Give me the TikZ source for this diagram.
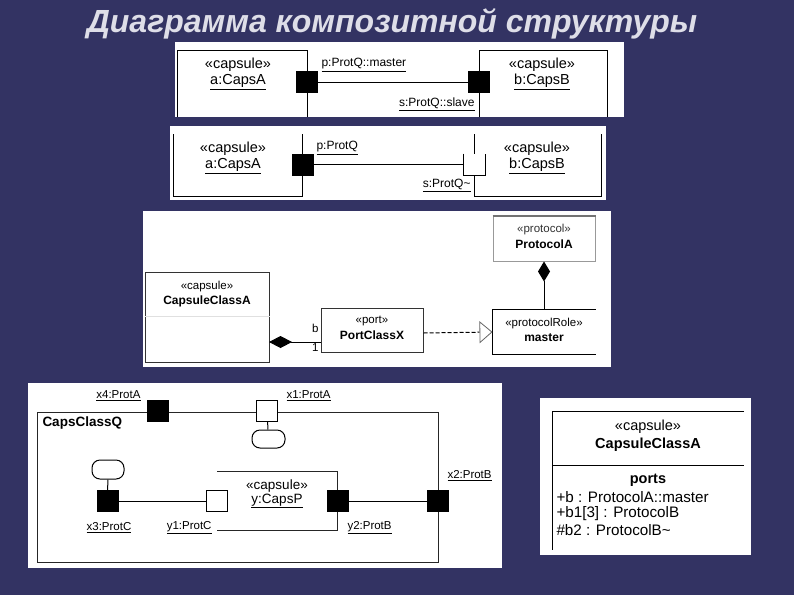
\documentclass[tikz,border=0pt]{standalone}
\usepackage{fontspec}
\setmainfont{Liberation Sans}
\usepackage{tikz}
\usetikzlibrary{arrows.meta}
\usetikzlibrary{positioning}
\definecolor{slide}{RGB}{51,51,99}
\definecolor{headgrey}{RGB}{222,222,232}
\tikzset{
    heading/.style={
           text=headgrey,
           inner sep=0pt,
           font=\fontsize{32}{36}\selectfont\bfseries\itshape,
           },
}
\tikzset{
    sheet/.style={
           fill=white,
           draw=none,
           },
}
\tikzset{
    fullport/.style={
           rectangle,
           draw=black, fill=black,
           inner sep=0pt,
           minimum size=21pt,
           },
}
\tikzset{
    emptyport/.style={
           rectangle,
           draw=black, fill=white,
           inner sep=0pt,
           minimum size=21pt,
           },
}
\tikzset{
    bigtxt/.style={
           inner sep=0pt,
           font=\fontsize{14.5}{16}\selectfont,
           },
}
\tikzset{
    midtxt/.style={
           inner sep=0pt,
           font=\fontsize{13.5}{15}\selectfont,
           },
}
\tikzset{
    smalltxt/.style={
           inner sep=0pt,
           font=\fontsize{11.5}{13}\selectfont,
           },
}
\tikzset{
    lbltxt/.style={
           inner sep=0pt,
           font=\fontsize{12}{14}\selectfont,
           },
}
\tikzset{
    classbox/.style={
           rectangle,
           draw=black!80,
           inner sep=0pt,
           },
}
\tikzset{
    blob/.style={
           rectangle,
           rounded corners=8pt,
           draw=black, fill=white,
           inner sep=0pt,
           },
}

\begin{document}
\begin{tikzpicture}[x=1pt,y=-1pt,line width=1pt]
\fill[slide] (0,0) rectangle (794,595);
\useasboundingbox (0,0) rectangle (794,595);
\node[heading] (title) at (392,24) {Диаграмма композитной структуры};

\fill[sheet] (175,42) rectangle (624,117);
\draw (177,117) -- (177,50) -- (307,50) -- (307,117);
\draw (479,117) -- (479,50) -- (607,50) -- (607,117);
\node[fullport] (pa) at (307,82) {};
\node[fullport] (sb) at (479,82) {};
\draw (pa) -- (sb);
\node[bigtxt] (stA) at (238,65) {«capsule»};
\node[bigtxt] (nmA) at (238,82) {\underline{a:CapsA}};
\node[bigtxt] (stB) at (542,65) {«capsule»};
\node[bigtxt] (nmB) at (542,82) {\underline{b:CapsB}};
\node[lbltxt, anchor=west] (lpa) at (321,65) {\underline{p:ProtQ::master}};
\node[lbltxt, anchor=east] (lsb) at (475,104) {\underline{s:ProtQ::slave}};

\fill[sheet] (170,126) rectangle (606,200);
\draw (173,134) -- (173,196) -- (302,196) -- (302,134);
\draw (474,134) -- (474,196) -- (601,196) -- (601,134);
\node[fullport] (pq) at (302.5,164.5) {};
\node[emptyport, draw=none] (sq) at (474.5,164.5) {};
\draw (sq.north west) |- (sq.south east) -- (sq.north east);
\draw (pq) -- (sq);
\node[bigtxt] (stA2) at (233,149) {«capsule»};
\node[bigtxt] (nmA2) at (233,166) {\underline{a:CapsA}};
\node[bigtxt] (stB2) at (537,149) {«capsule»};
\node[bigtxt] (nmB2) at (537,166) {\underline{b:CapsB}};
\node[lbltxt, anchor=west] (lpq) at (316,148) {\underline{p:ProtQ}};
\node[lbltxt, anchor=east] (lsq) at (471,185) {\underline{s:ProtQ\textasciitilde}};

\fill[sheet] (143,211) rectangle (611,367);
\node[classbox, minimum width=124pt, minimum height=90pt] (capsclass) at (207,317) {};
\draw[black!12] (capsclass.west |- 0,316) -- (capsclass.east |- 0,316);
\node[smalltxt] (stC) at (207,287) {«capsule»};
\node[lbltxt, font=\fontsize{12}{14}\selectfont\bfseries] (nmC) at (207,301) {CapsuleClassA};
\node[classbox, minimum width=102pt, minimum height=44pt] (portx) at (372,330) {};
\node[smalltxt] (stX) at (372,321) {«port»};
\node[lbltxt, font=\fontsize{12}{14}\selectfont\bfseries] (nmX) at (372,335) {PortClassX};
\node[classbox, draw=black!40, minimum width=102pt, minimum height=45pt] (proto) at (544,238.5) {};
\draw[black!55, line width=2pt] (proto.north west) -- (proto.north east);
\node[smalltxt, text=black!80] (stP) at (544,230) {«protocol»};
\node[lbltxt, font=\fontsize{12}{14}\selectfont\bfseries] (nmP) at (544,244) {ProtocolA};
\node[minimum width=102pt, minimum height=44pt, inner sep=0pt] (role) at (544,332) {};
\draw (role.north east) -- (role.north west) -- (role.south west) -- (role.south east);
\node[smalltxt] (stR) at (544,324) {«protocolRole»};
\node[lbltxt, font=\fontsize{12}{14}\selectfont\bfseries] (nmR) at (544,338) {master};
\coordinate (compA) at (269,342);
\draw[{Diamond[length=23pt,width=12pt]}-] (compA) -- (compA -| portx.west);
\node[smalltxt, anchor=east] (rb) at (319,328) {b};
\node[smalltxt, anchor=east] (rone) at (319,348) {1};
\draw[dash pattern=on 4pt off 2pt, -{Triangle[open,length=13pt,width=22pt,line width=0.8pt,color=black!60]}] ([yshift=-3pt]portx.east) -- (role.west);
\draw[{Diamond[length=20pt,width=12pt]}-] (proto.south) -- (role.north);

\fill[sheet] (28,383) rectangle (502,568);
\draw[black!85] (37,412) rectangle (438,562);
\node[midtxt, font=\fontsize{13.5}{15}\selectfont\bfseries, anchor=west] (nmQ) at (42,423) {CapsClassQ};
\draw[black!85] (217,471) -| (337,530) -- (217,530);
\node[fullport] (x4) at (157.5,411) {};
\node[emptyport] (x1) at (267,411) {};
\node[blob, minimum width=33pt, minimum height=18pt] (b1) at (268.5,439) {};
\draw (x1) -- (b1);
\node[fullport] (x3) at (107.5,501) {};
\node[blob, minimum width=32pt, minimum height=19pt] (b3) at (108,469.5) {};
\draw (x3) -- (b3);
\node[emptyport] (y1) at (217,501) {};
\node[fullport] (y2) at (337.5,501) {};
\node[fullport] (x2) at (437.5,501) {};
\draw (x3) -- (y1);
\draw (y2) -- (x2);
\node[midtxt] (stY) at (277,486) {«capsule»};
\node[midtxt] (nmY) at (277,501) {\underline{y:CapsP}};
\node[smalltxt, anchor=east] (lx4) at (141,396) {\underline{x4:ProtA}};
\node[smalltxt, anchor=west] (lx1) at (286,396) {\underline{x1:ProtA}};
\node[smalltxt] (lx3) at (109,528) {\underline{x3:ProtC}};
\node[smalltxt, anchor=east] (ly1) at (212,528) {\underline{y1:ProtC}};
\node[smalltxt, anchor=west] (ly2) at (347,528) {\underline{y2:ProtB}};
\node[smalltxt, anchor=west] (lx2) at (447,476) {\underline{x2:ProtB}};

\fill[sheet] (540,398) rectangle (751,555);
\draw (744,411) -- (552,411) -- (552,550);
\draw (552,465) -- (744,465);
\node[bigtxt] (stK) at (648,427) {«capsule»};
\node[bigtxt, font=\fontsize{14.5}{16}\selectfont\bfseries] (nmK) at (648,445) {CapsuleClassA};
\node[bigtxt, font=\fontsize{14.5}{16}\selectfont\bfseries] (hdK) at (648,480) {ports};
\node[bigtxt, font=\fontsize{15.2}{17}\selectfont, anchor=west] (pb) at (556,497) {+b : ProtocolA::master};
\node[bigtxt, font=\fontsize{15.2}{17}\selectfont, anchor=west] (pb1) at (556,514) {+b1[3] : ProtocolB};
\node[bigtxt, font=\fontsize{15.2}{17}\selectfont, anchor=west] (pb2) at (556,530) {\#b2 : ProtocolB\textasciitilde};
\end{tikzpicture}
\end{document}
